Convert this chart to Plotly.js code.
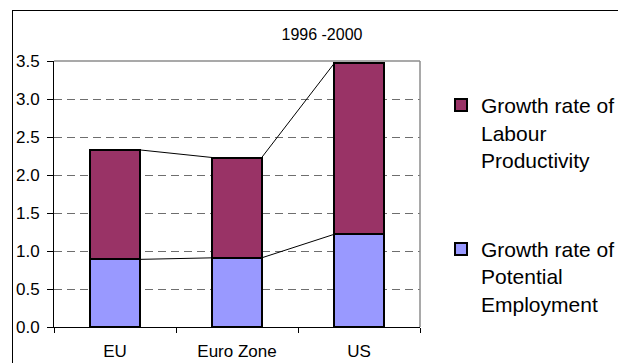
<!DOCTYPE html>
<html>
<head>
<meta charset="utf-8">
<script src="https://cdn.plot.ly/plotly-3.0.1.min.js"></script>
<style>
  html, body { margin: 0; padding: 0; background: #fff; }
  #wrap { position: relative; width: 618px; height: 363px; overflow: hidden; }
  #chart { width: 618px; height: 363px; }
  #frame { position: absolute; left: 12px; top: 10px; width: 800px; height: 500px;
           border: 1px solid #000; pointer-events: none; }
</style>
</head>
<body>
<div id="wrap">
  <div id="chart"></div>
  <div id="frame"></div>
</div>
<script>
// ---- data ----
const categories = ['EU', 'Euro Zone', 'US'];
const employment = [0.89, 0.91, 1.22];     // Growth rate of Potential Employment
const productivity = [1.44, 1.32, 2.25];   // Growth rate of Labour Productivity
const employmentName = 'Growth rate of<br>Potential<br>Employment';
const productivityName = 'Growth rate of<br>Labour<br>Productivity';
const yTickVals = [0, 0.5, 1, 1.5, 2, 2.5, 3, 3.5];
const yTickText = ['0.0', '0.5', '1.0', '1.5', '2.0', '2.5', '3.0', '3.5'];
const chartTitle = '1996 -2000';

// ---- derived ----
const xPos = categories.map((c, i) => i);
const totals = employment.map((v, i) => v + productivity[i]);
const barW = 0.405;

function seriesLine(vals) {
  const xs = [], ys = [];
  for (let i = 0; i < vals.length - 1; i++) {
    xs.push(xPos[i] + barW / 2, xPos[i + 1] - barW / 2, null);
    ys.push(vals[i], vals[i + 1], null);
  }
  return { type: 'scatter', mode: 'lines', x: xs, y: ys, showlegend: false,
           hoverinfo: 'skip', line: { color: '#000', width: 1 } };
}

const font = 'Liberation Sans, Arial, sans-serif';

const traces = [
  { type: 'bar', name: employmentName, x: xPos, y: employment, width: barW,
    legendgroup: 'b', legendrank: 2,
    marker: { color: '#9999FF', line: { color: '#000', width: 2 } } },
  { type: 'bar', name: productivityName, x: xPos, y: productivity, width: barW,
    legendgroup: 'a', legendrank: 1,
    marker: { color: '#993366', line: { color: '#000', width: 2 } } },
  seriesLine(employment),
  seriesLine(totals)
];

const layout = {
  width: 618, height: 363,
  margin: { l: 54, r: 198, t: 61, b: 36, autoexpand: false },
  paper_bgcolor: '#fff', plot_bgcolor: '#fff',
  barmode: 'stack',
  font: { family: font, color: '#000', size: 17 },
  title: { text: chartTitle, font: { family: font, size: 16, color: '#000' },
           xref: 'container', x: 0.521, xanchor: 'center',
           yref: 'container', y: 0.905, yanchor: 'middle' },
  xaxis: {
    range: [-0.5, 2.5], tickmode: 'array', tickvals: xPos, ticktext: categories,
    ticks: '', showgrid: false, zeroline: false,
    showline: true, linecolor: '#000', linewidth: 1,
    tickfont: { family: font, size: 17, color: '#000' },
    ticklabelstandoff: 9,
    minor: { tick0: 0.5, dtick: 1, ticks: 'outside', ticklen: 5, tickcolor: '#000', tickwidth: 1, showgrid: false }
  },
  yaxis: {
    range: [0, 3.5], tickmode: 'array', tickvals: yTickVals, ticktext: yTickText,
    ticks: 'outside', ticklen: 6, tickcolor: '#000', tickwidth: 1,
    showline: true, linecolor: '#000', linewidth: 1, zeroline: false,
    showgrid: true, gridcolor: '#6e6e6e', gridwidth: 1, griddash: '8px,5px',
    tickfont: { family: font, size: 17, color: '#000' },
    ticklabelstandoff: 4
  },
  legend: {
    xref: 'container', x: 0.7136, xanchor: 'left', y: 0.91, yanchor: 'top',
    traceorder: 'grouped', tracegroupgap: 59, valign: 'top',
    font: { family: font, size: 21, color: '#000' },
    itemwidth: 30, bgcolor: 'rgba(0,0,0,0)'
  },
  shapes: [
    { type: 'line', xref: 'paper', yref: 'paper', x0: 0, x1: 1, y0: 1, y1: 1,
      line: { color: '#8c8c8c', width: 1.5 } },
    { type: 'line', xref: 'paper', yref: 'paper', x0: 1, x1: 1, y0: 0, y1: 1,
      line: { color: '#8c8c8c', width: 1.5 } }
  ],
  showlegend: true
};

Plotly.newPlot('chart', traces, layout, { displayModeBar: false, staticPlot: true });
</script>
</body>
</html>
